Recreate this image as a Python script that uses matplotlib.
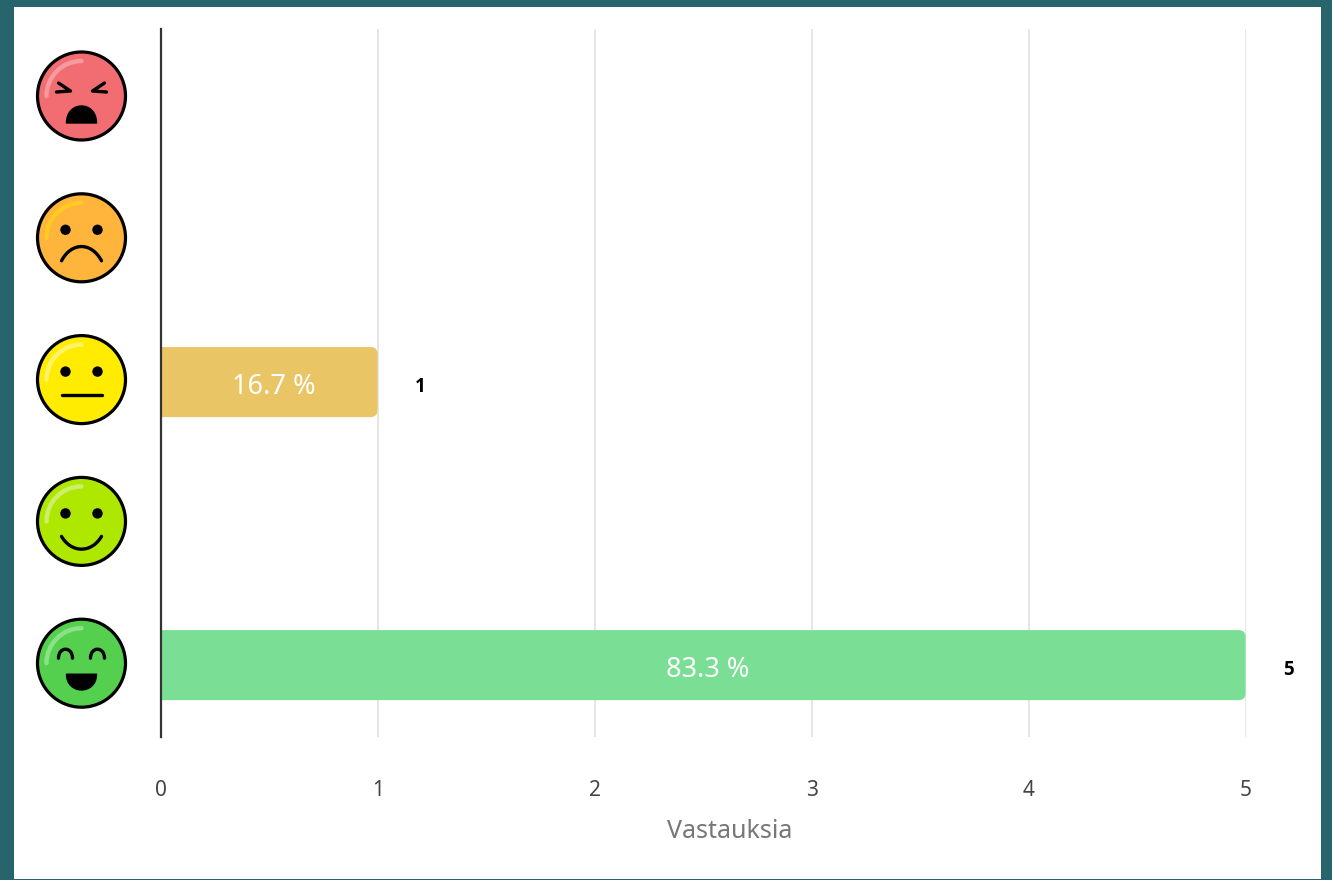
import matplotlib
matplotlib.use("Agg")
import matplotlib.pyplot as plt
from matplotlib.patches import Circle, FancyBboxPatch, PathPatch, Rectangle
from matplotlib.path import Path

plt.rcParams['font.family'] = ['Noto Sans', 'DejaVu Sans']

# Data
moods = ["angry", "sad", "neutral", "happy", "very_happy"]
answers = [0, 0, 1, 0, 5]
percent_labels = ["", "", "16.7 %", "", "83.3 %"]
bar_colors = ["#F26D72", "#FFB43B", "#E9C565", "#AEE800", "#7ADF95"]
face_colors = ["#F26D72", "#FFB43B", "#FFEC00", "#AEE800", "#55D04E"]
shine_colors = ["#F59A9E", "#FFCB20", "#FFF36A", "#CDEE6A", "#8CE187"]
x_ticks = [0, 1, 2, 3, 4, 5]
x_title = "Vastauksia"

W, H = 1332, 880
fig = plt.figure(figsize=(W / 100, H / 100), dpi=100, facecolor="#27646B")

# overlay in pixel coordinates, for the white card and the smileys
bg = fig.add_axes([0, 0, 1, 1], zorder=0)
bg.set_xlim(0, W)
bg.set_ylim(H, 0)
bg.axis("off")
bg.add_patch(Rectangle((14, 7), 1307, 872, fc="white", ec="none"))

# chart axes
ax = fig.add_axes([161 / W, (H - 737) / H, 1085 / W, 708 / H], zorder=1)
ax.patch.set_alpha(0)
ax.set_xlim(0, 5)
ax.set_ylim(4.508, -0.495)
for s in ax.spines.values():
    s.set_visible(False)
ax.set_yticks([])
ax.set_xticks(x_ticks)
ax.tick_params(axis="x", length=0, pad=31, labelsize=15, labelcolor="#444444")
ax.set_axisbelow(True)
ax.grid(axis="x", color="#E6E6E6", lw=1.4)
ax.set_xlabel(x_title, fontsize=18, color="#777777")
ax.xaxis.set_label_coords(0.5245, -0.1328, transform=ax.transAxes)
ax.xaxis.label.set_va("center")
ax.axvline(0, color="#333333", lw=1.6, zorder=5, clip_on=False)

# bars, rounded on the right only (the left end is clipped by the axes)
radius = 7 / 217
aspect = 217 / 141.6
for i, v in enumerate(answers):
    if v == 0:
        continue
    bar = FancyBboxPatch((-0.1, i - 0.2475), v + 0.1 - 0.002, 0.495,
                         boxstyle=f"round,pad=0,rounding_size={radius}",
                         mutation_aspect=aspect, fc=bar_colors[i], ec="none", zorder=3)
    ax.add_patch(bar)
    ax.annotate(percent_labels[i], (v / 2, i), xytext=(4, -5), textcoords="offset pixels",
                color="white", fontsize=19.5, ha="center", va="center", zorder=4)
    ax.annotate(str(v), (v, i), xytext=(42, -5), textcoords="offset pixels",
                fontsize=13.5, fontweight="bold", family="Open Sans", color="black",
                ha="center", va="center", annotation_clip=False)


def curve(cx, cy, pts, codes, **kw):
    verts = [(cx + x, cy + y) for x, y in pts]
    bg.add_patch(PathPatch(Path(verts, codes), **kw))


C3 = [Path.MOVETO, Path.CURVE4, Path.CURVE4, Path.CURVE4]
LINE = dict(fc="none", ec="black", lw=2.4, capstyle="round", joinstyle="round", zorder=4)


def draw_face(idx, cx, cy):
    bg.add_patch(Circle((cx, cy), 44, fc=face_colors[idx], ec="black", lw=2.3, zorder=2))
    # shine arc, upper left
    k = 0.5523 * 35
    curve(cx, cy, [(-35, 0), (-35, -k), (-k, -35), (0, -35)], C3,
          fc="none", ec=shine_colors[idx], lw=3.2, capstyle="round", zorder=3)
    mood = moods[idx]
    if mood == "angry":
        for sgn in (-1, 1):
            verts = [(sgn * 23, -13), (sgn * 11, -5), (sgn * 25, -4)]
            curve(cx, cy, verts, [Path.MOVETO, Path.LINETO, Path.LINETO], **LINE)
        curve(cx, cy, [(-15, 27), (-15, 16), (-8, 10), (0, 10), (8, 10), (15, 16), (15, 27), (-15, 27)],
              [Path.MOVETO, Path.CURVE4, Path.CURVE4, Path.CURVE4,
               Path.CURVE4, Path.CURVE4, Path.CURVE4, Path.CLOSEPOLY],
              fc="black", ec="black", lw=1, joinstyle="round", zorder=4)
    elif mood == "very_happy":
        for sgn in (-1, 1):
            x0 = sgn * 16
            curve(cx, cy, [(x0 - 7, -5), (x0 - 7, -17), (x0 + 7, -17), (x0 + 7, -5)], C3, **LINE)
        curve(cx, cy, [(-15, 11), (-15, 32), (15, 32), (15, 11), (-15, 11)],
              [Path.MOVETO, Path.CURVE4, Path.CURVE4, Path.CURVE4, Path.CLOSEPOLY],
              fc="black", ec="black", lw=1, joinstyle="round", zorder=4)
    else:
        for sgn in (-1, 1):
            bg.add_patch(Circle((cx + sgn * 16, cy - 8), 5.2, fc="black", ec="none", zorder=4))
        if mood == "sad":
            curve(cx, cy, [(-20, 23), (-10, 4), (10, 4), (20, 23)], C3, **LINE)
        elif mood == "neutral":
            curve(cx, cy, [(-20, 15), (20, 15)], [Path.MOVETO, Path.LINETO], **LINE)
        else:
            curve(cx, cy, [(-20, 15), (-10, 32), (10, 32), (20, 15)], C3, **LINE)


for i in range(len(moods)):
    draw_face(i, 81.5, 96 + 141.8 * i)

fig.savefig("out.png", dpi=100, facecolor=fig.get_facecolor())
